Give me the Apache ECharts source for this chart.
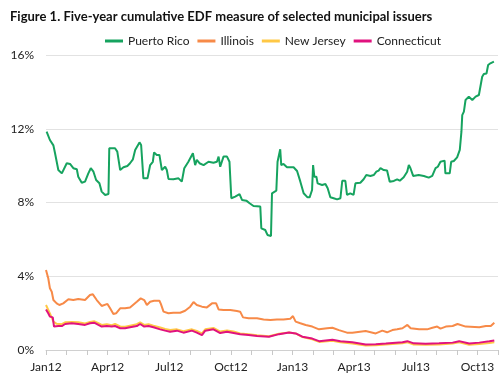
<!DOCTYPE html>
<html>
<head>
<meta charset="utf-8">
<script src="https://cdn.jsdelivr.net/npm/echarts@6/dist/echarts.min.js"></script>
<style>html,body{margin:0;padding:0;background:#fff}#c{width:504px;height:386px}</style>
</head>
<body>
<div id="c"></div>
<script>
// x = months since Jan 2012, y = five-year cumulative EDF (%)
const seriesNames = ['Puerto Rico', 'Illinois', 'New Jersey', 'Connecticut'];
const quarterLabels = ['Jan12', 'Apr12', 'Jul12', 'Oct12', 'Jan13', 'Apr13', 'Jul13', 'Oct13'];
const yTicks = [0, 4, 8, 12, 16];

const puertoRico = [
[0.03,11.84],[0.19,11.39],[0.36,11.1],[0.44,10.67],[0.52,10.67],[0.60,9.76],[0.77,9.58],[1.01,10.13],[1.17,10.09],[1.33,9.86],
[1.50,9.8],[1.57,9.4],[1.74,9.07],[1.90,9.13],[2.06,9.58],[2.18,9.86],[2.31,9.67],[2.44,9.22],[2.60,9.04],[2.71,8.59],
[2.88,8.41],[3.04,8.46],[3.08,10.94],[3.36,10.94],[3.47,10.76],[3.61,9.76],[3.77,9.91],[3.96,9.98],[4.09,10.13],[4.23,10.34],
[4.34,10.85],[4.55,11.26],[4.63,11.12],[4.74,9.31],[4.94,9.31],[5.07,10.03],[5.20,10.21],[5.26,10.72],[5.39,10.58],[5.52,10.58],
[5.64,9.76],[5.80,9.94],[5.88,9.76],[5.96,9.28],[6.20,9.26],[6.45,9.31],[6.61,9.13],[6.73,9.86],[6.93,10.21],[7.15,10.67],
[7.26,10.03],[7.34,10.31],[7.47,10.13],[7.67,10.03],[7.91,10.21],[8.15,10.16],[8.32,10.21],[8.40,10.49],[8.48,9.94],[8.64,10.49],
[8.81,10.49],[8.93,10.21],[9.02,8.23],[9.21,8.32],[9.42,8.45],[9.54,8.14],[9.75,8.1],[9.91,7.96],[10.10,7.81],[10.43,7.78],
[10.48,6.6],[10.67,6.51],[10.78,6.24],[10.95,6.18],[11.00,8.5],[11.21,8.64],[11.27,10.21],[11.40,10.89],[11.45,10.03],[11.56,10.09],
[11.73,9.91],[12.05,9.91],[12.22,9.71],[12.30,9.76],[12.38,9.13],[12.54,8.5],[12.73,8.28],[12.83,8.28],[12.95,8.68],[13.00,10.03],
[13.06,9.4],[13.16,9.4],[13.22,9.04],[13.44,8.95],[13.60,9.0],[13.71,8.77],[13.84,8.28],[14.00,8.23],[14.17,8.17],[14.33,8.23],
[14.42,9.18],[14.57,9.18],[14.65,8.41],[14.81,8.5],[14.97,8.41],[15.06,9.04],[15.30,9.07],[15.46,9.26],[15.59,9.49],[15.79,9.44],
[15.95,9.49],[16.08,9.67],[16.19,9.73],[16.28,9.86],[16.44,9.76],[16.60,9.73],[16.73,9.13],[16.93,9.17],[17.09,9.26],[17.22,9.18],
[17.41,9.37],[17.58,9.67],[17.66,10.03],[17.74,9.86],[17.87,9.44],[18.14,9.49],[18.39,9.44],[18.63,9.35],[18.80,9.44],[18.96,9.86],
[19.07,9.94],[19.20,10.21],[19.40,10.27],[19.44,9.58],[19.65,9.58],[19.72,10.21],[19.85,10.25],[20.01,10.45],[20.14,10.85],[20.22,11.84],
[20.26,12.74],[20.34,12.93],[20.42,13.56],[20.58,13.74],[20.75,13.56],[20.91,13.74],[21.07,13.83],[21.15,13.92],[21.23,14.82],[21.31,14.97],
[21.44,15.0],[21.52,15.46],[21.63,15.55],[21.80,15.64]
];

const illinois = [
[0.00,4.34],[0.11,3.89],[0.19,3.35],[0.28,3.16],[0.36,2.71],[0.52,2.53],[0.65,2.44],[0.84,2.53],[1.09,2.75],[1.33,2.71],
[1.57,2.77],[1.90,2.71],[2.14,2.98],[2.28,3.02],[2.47,2.71],[2.71,2.39],[2.99,2.5],[3.12,2.26],[3.28,1.95],[3.41,1.99],
[3.61,2.26],[3.85,2.26],[4.09,2.31],[4.42,2.62],[4.61,2.8],[4.78,2.71],[4.91,2.44],[5.07,2.62],[5.26,2.67],[5.52,2.67],
[5.59,2.5],[5.72,2.08],[5.96,1.99],[6.20,2.02],[6.53,2.02],[6.77,2.13],[7.02,2.35],[7.18,2.6],[7.34,2.44],[7.59,2.35],
[7.83,2.31],[8.08,2.53],[8.28,2.53],[8.40,2.2],[8.64,2.17],[8.97,2.17],[9.29,2.11],[9.45,2.08],[9.59,1.77],[9.86,1.72],
[10.27,1.72],[10.59,1.66],[10.92,1.63],[11.24,1.66],[11.56,1.66],[11.89,1.7],[12.02,1.84],[12.15,1.54],[12.38,1.45],[12.64,1.36],
[12.96,1.27],[13.29,1.12],[13.68,1.18],[13.94,1.21],[14.26,1.08],[14.65,0.94],[14.91,0.94],[15.56,1.03],[16.05,0.9],[16.37,1.05],
[16.60,0.96],[16.86,1.08],[17.09,1.12],[17.35,1.18],[17.59,1.36],[17.75,1.18],[18.16,1.12],[18.55,1.12],[18.81,1.21],[19.04,1.27],
[19.20,1.16],[19.46,1.27],[19.79,1.3],[20.03,1.41],[20.43,1.27],[21.09,1.23],[21.41,1.3],[21.65,1.3],[21.82,1.48]
];

const newJersey = [
[0.00,2.44],[0.19,1.99],[0.36,1.54],[0.52,1.42],[0.77,1.4],[0.93,1.5],[1.25,1.52],[1.57,1.5],[1.90,1.44],[2.14,1.52],
[2.34,1.56],[2.55,1.45],[2.71,1.36],[2.96,1.4],[3.20,1.35],[3.36,1.42],[3.61,1.28],[3.85,1.26],[4.09,1.32],[4.42,1.4],
[4.58,1.5],[4.78,1.36],[4.99,1.4],[5.23,1.32],[5.56,1.22],[5.80,1.14],[6.04,1.08],[6.37,1.12],[6.69,1.02],[7.10,1.12],
[7.34,1.03],[7.59,0.9],[7.75,1.12],[8.15,1.2],[8.48,1.0],[8.81,1.06],[9.13,1.0],[9.45,0.9],[9.86,0.85],[10.27,0.8],
[10.85,0.75],[11.34,0.88],[11.83,0.95],[12.15,0.9],[12.48,0.7],[12.96,0.58],[13.29,0.44],[13.94,0.5],[14.33,0.42],[14.91,0.35],
[15.56,0.24],[16.05,0.26],[16.54,0.3],[17.35,0.37],[17.59,0.42],[17.90,0.3],[18.48,0.28],[19.13,0.3],[19.79,0.35],[20.11,0.42],
[20.60,0.28],[21.09,0.33],[21.58,0.38],[21.82,0.42]
];

const connecticut = [
[0.00,2.2],[0.11,1.99],[0.19,1.81],[0.33,1.77],[0.39,1.27],[0.60,1.3],[0.77,1.3],[0.93,1.41],[1.25,1.45],[1.57,1.41],
[1.90,1.36],[2.14,1.45],[2.34,1.48],[2.55,1.36],[2.71,1.27],[2.96,1.3],[3.20,1.27],[3.36,1.3],[3.61,1.18],[3.85,1.18],
[4.09,1.23],[4.42,1.3],[4.58,1.41],[4.78,1.27],[4.99,1.3],[5.23,1.23],[5.56,1.12],[5.80,1.05],[6.04,0.99],[6.37,1.05],
[6.69,0.94],[7.10,1.05],[7.34,0.94],[7.59,0.81],[7.75,1.05],[8.15,1.12],[8.48,0.92],[8.81,0.99],[9.13,0.92],[9.45,0.85],
[9.86,0.81],[10.27,0.76],[10.85,0.72],[11.34,0.86],[11.83,0.95],[12.15,0.9],[12.48,0.72],[12.96,0.62],[13.29,0.48],[13.94,0.56],
[14.33,0.48],[14.91,0.42],[15.56,0.3],[16.05,0.31],[16.54,0.35],[17.35,0.42],[17.59,0.48],[17.90,0.36],[18.48,0.34],[19.13,0.36],
[19.79,0.4],[20.11,0.48],[20.60,0.35],[21.09,0.4],[21.58,0.47],[21.82,0.52]
];

const colors = ['#16a35f', '#f78a48', '#ffc845', '#e0127e'];
const allData = [puertoRico, illinois, newJersey, connecticut];
const FONT = 'Lato';

const chart = echarts.init(document.getElementById('c'), null, {renderer: 'canvas'});
chart.setOption({
  animation: false,
  backgroundColor: '#fff',
  color: colors,
  title: {
    text: 'Figure 1. Five-year cumulative EDF measure of selected municipal issuers',
    left: 5, top: 5,
    textStyle: {fontFamily: FONT, fontSize: 13, fontWeight: 'bold', color: '#111'}
  },
  legend: {
    top: 30, left: 100,
    itemWidth: 18, itemHeight: 3, itemGap: 8,
    icon: 'rect',
    textStyle: {fontFamily: FONT, fontSize: 12, color: '#222'},
    data: seriesNames
  },
  grid: {left: 46, right: 6, top: 55, bottom: 36},
  xAxis: {
    type: 'value', min: 0, max: 22, interval: 1,
    axisLine: {show: true, lineStyle: {color: '#d0d0d0'}},
    axisTick: {show: true, length: 5, lineStyle: {color: '#c8c8c8'}},
    splitLine: {show: false},
    axisLabel: {
      fontFamily: FONT, fontSize: 12, color: '#222', margin: 11,
      formatter: v => (v % 3 === 0 && quarterLabels[v / 3]) ? quarterLabels[v / 3] : ''
    }
  },
  yAxis: {
    type: 'value', min: yTicks[0], max: yTicks[yTicks.length - 1], interval: 4,
    axisLine: {show: false}, axisTick: {show: false},
    splitLine: {lineStyle: {color: '#e2e2e2'}},
    axisLabel: {fontFamily: FONT, fontSize: 12, color: '#222', margin: 12, formatter: v => v + '%'}
  },
  series: seriesNames.map((n, i) => ({
    name: n, type: 'line', data: allData[i], showSymbol: false, symbol: 'none',
    lineStyle: {width: 2, color: colors[i]}, itemStyle: {color: colors[i]}
  }))
});
</script>
</body>
</html>
